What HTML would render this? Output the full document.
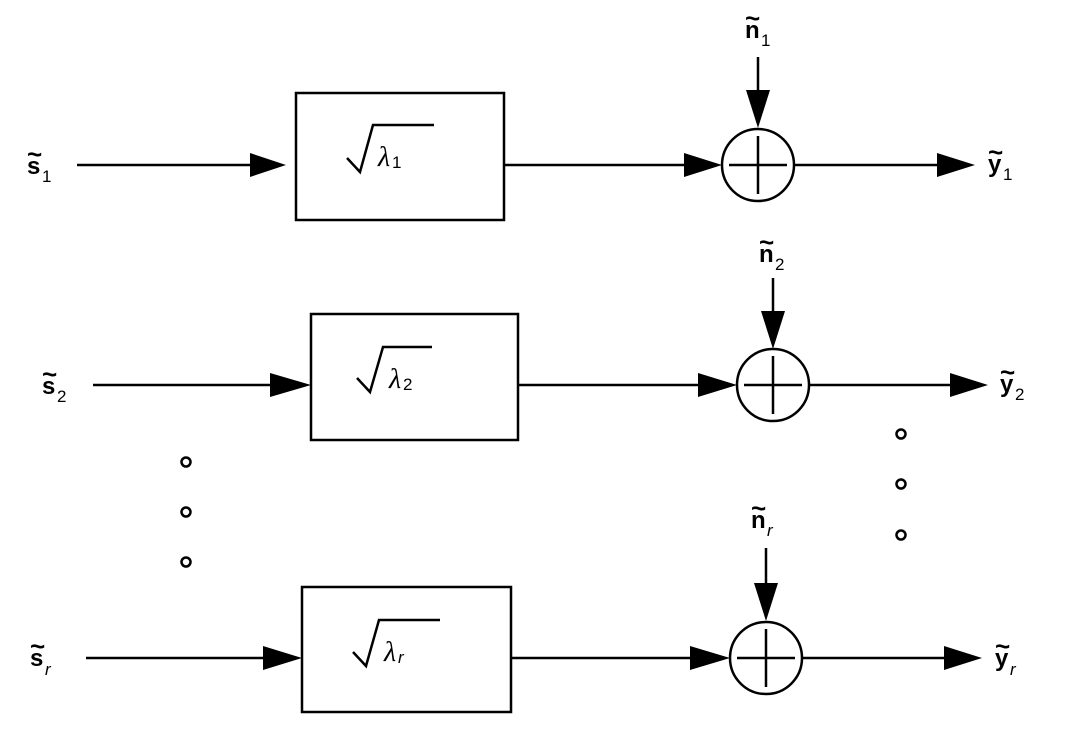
<!DOCTYPE html>
<html><head><meta charset="utf-8"><style>
html,body{margin:0;padding:0;background:#fff;}
svg{display:block;}
.b{font-family:"Liberation Sans",sans-serif;font-weight:bold;font-size:24px;fill:#000;}
.sub{font-family:"Liberation Sans",sans-serif;font-size:17px;fill:#000;}
.isub{font-family:"Liberation Sans",sans-serif;font-style:italic;font-size:17px;fill:#000;}
.t{font-family:"Liberation Sans",sans-serif;font-weight:bold;font-size:26px;fill:#000;}
.lam{font-family:"Liberation Serif",serif;font-style:italic;font-size:28px;fill:#000;}
</style></head><body>
<svg width="1068" height="738" viewBox="0 0 1068 738" xmlns="http://www.w3.org/2000/svg">
<g stroke="#000" stroke-width="2.5" fill="none">
<line x1="77" y1="165" x2="255" y2="165"/>
<rect x="296" y="93" width="208" height="127"/>
<line x1="504" y1="165" x2="690" y2="165"/>
<circle cx="758" cy="165" r="36"/>
<line x1="729" y1="165" x2="787" y2="165"/>
<line x1="758" y1="136" x2="758" y2="194"/>
<line x1="758" y1="57" x2="758" y2="95"/>
<line x1="794" y1="165" x2="945" y2="165"/>
<polyline points="347,158 360,172 373,125 434,125"/>
<line x1="93" y1="385" x2="275" y2="385"/>
<rect x="311" y="314" width="207" height="126"/>
<line x1="518" y1="385" x2="705" y2="385"/>
<circle cx="773" cy="385" r="36"/>
<line x1="744" y1="385" x2="802" y2="385"/>
<line x1="773" y1="356" x2="773" y2="414"/>
<line x1="773" y1="278" x2="773" y2="315"/>
<line x1="809" y1="385" x2="958" y2="385"/>
<polyline points="357,378 370,392 383,347 432,347"/>
<line x1="86" y1="658" x2="268" y2="658"/>
<rect x="302" y="587" width="209" height="125"/>
<line x1="511" y1="658" x2="697" y2="658"/>
<circle cx="766" cy="658" r="36"/>
<line x1="737" y1="658" x2="795" y2="658"/>
<line x1="766" y1="629" x2="766" y2="687"/>
<line x1="766" y1="548" x2="766" y2="585"/>
<line x1="802" y1="658" x2="952" y2="658"/>
<polyline points="353,652 366,666 379,620 440,620"/>
<circle cx="186" cy="462" r="4.5"/>
<circle cx="186" cy="512" r="4.5"/>
<circle cx="186" cy="562" r="4.5"/>
<circle cx="901" cy="434" r="4.5"/>
<circle cx="901" cy="484" r="4.5"/>
<circle cx="901" cy="535" r="4.5"/>
</g>
<g fill="#000">
<polygon points="250,153 286,165 250,177"/>
<polygon points="684,153 722,165 684,177"/>
<polygon points="746,90 770,90 758,128"/>
<polygon points="937,153 975,165 937,177"/>
<polygon points="270,373 311,385 270,397"/>
<polygon points="698,373 737,385 698,397"/>
<polygon points="761,311 785,311 773,349"/>
<polygon points="950,373 988,385 950,397"/>
<polygon points="263,646 302,658 263,670"/>
<polygon points="690,646 730,658 690,670"/>
<polygon points="754,583 778,583 766,621"/>
<polygon points="944,646 982,658 944,670"/>
</g>
<text x="378" y="166" class="lam">λ</text><text x="392" y="168" class="sub">1</text>
<text x="389" y="388" class="lam">λ</text><text x="403" y="390" class="sub">2</text>
<text x="384" y="661" class="lam">λ</text><text x="398" y="663" class="isub">r</text>
<text x="27" y="174" class="b">s</text><text x="27" y="163" class="t">~</text><text x="42" y="182" class="sub">1</text>
<text x="42" y="394" class="b">s</text><text x="42" y="383" class="t">~</text><text x="57" y="402" class="sub">2</text>
<text x="30" y="666" class="b">s</text><text x="30" y="655" class="t">~</text><text x="45" y="675" class="isub">r</text>
<text x="745" y="38" class="b">n</text><text x="745" y="27" class="t">~</text><text x="761" y="46" class="sub">1</text>
<text x="759" y="262" class="b">n</text><text x="759" y="251" class="t">~</text><text x="775" y="270" class="sub">2</text>
<text x="751" y="528" class="b">n</text><text x="751" y="517" class="t">~</text><text x="767" y="536" class="isub">r</text>
<text x="988" y="172" class="b">y</text><text x="988" y="161" class="t">~</text><text x="1003" y="180" class="sub">1</text>
<text x="1000" y="392" class="b">y</text><text x="1000" y="381" class="t">~</text><text x="1015" y="400" class="sub">2</text>
<text x="995" y="666" class="b">y</text><text x="995" y="655" class="t">~</text><text x="1010" y="675" class="isub">r</text>
</svg>
</body></html>
